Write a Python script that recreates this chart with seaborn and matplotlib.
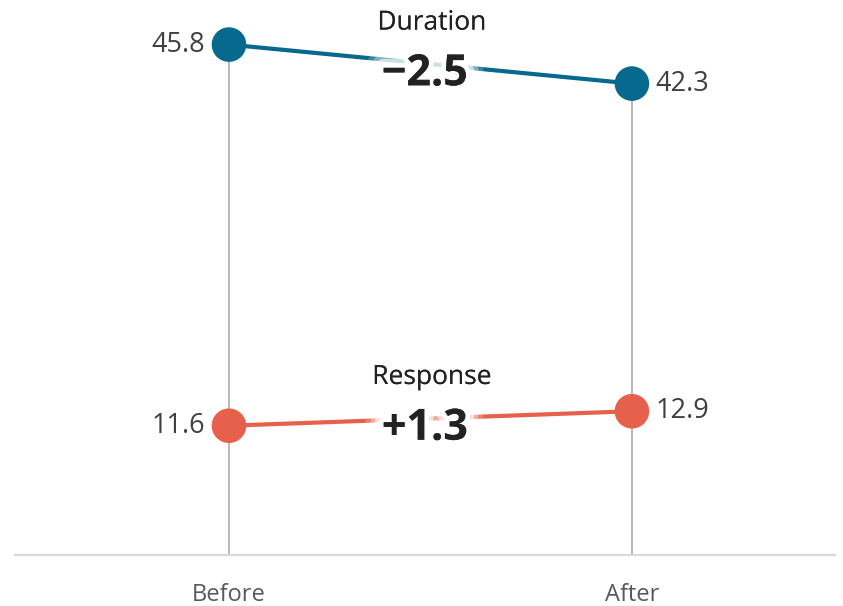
import matplotlib
matplotlib.use("Agg")
import matplotlib.pyplot as plt
import matplotlib.patheffects as pe
import seaborn as sns
import pandas as pd

periods = ["Before", "After"]
metrics = ["Duration", "Response"]
duration_vals = [45.8, 42.3]
response_vals = [11.6, 12.9]
change_labels = ["\u22122.5", "+1.3"]
colors = {"Duration": "#06698d", "Response": "#e6604b"}

df = pd.DataFrame({
    "metric": ["Duration"] * 2 + ["Response"] * 2,
    "x": [0, 1, 0, 1],
    "value": duration_vals + response_vals,
})

sns.set_theme(style="white")
plt.rcParams["font.family"] = ["Open Sans", "DejaVu Sans"]

fig = plt.figure(figsize=(8.43, 6.06), dpi=100)
ax = fig.add_axes([15 / 843, 51 / 606, 820 / 843, 555 / 606])

# vertical guide lines
for i in range(2):
    top = max(df.loc[df.x == i, "value"])
    ax.plot([i, i], [0, top], color="#b3b3b3", lw=1.3, zorder=1)

sns.lineplot(data=df, x="x", y="value", hue="metric", palette=colors,
             lw=3, ax=ax, legend=False, zorder=2)
sns.scatterplot(data=df, x="x", y="value", hue="metric", palette=colors,
                s=620, edgecolor="none", ax=ax, legend=False, zorder=3)

glow = [pe.withStroke(linewidth=w, foreground="white", alpha=a)
        for w, a in [(26, 0.2), (19, 0.35), (13, 0.6), (7, 1.0)]] + [pe.Normal()]

for m, vals, lab in zip(metrics, [duration_vals, response_vals], change_labels):
    ax.annotate(f"{vals[0]:.1f}", (0, vals[0]), xytext=(-17, 0), textcoords="offset points",
                ha="right", va="center", fontsize=19.5, color="#404040")
    ax.annotate(f"{vals[1]:.1f}", (1, vals[1]), xytext=(17, 0), textcoords="offset points",
                ha="left", va="center", fontsize=19.5, color="#404040")
    mid = (vals[0] + vals[1]) / 2
    ax.annotate(lab, (0.5, mid), xytext=(-4, -7), textcoords="offset points",
                ha="center", va="center", fontsize=31, fontweight="bold",
                color="#222222", path_effects=glow, zorder=5)
    ax.annotate(m, (0.5, mid), xytext=(1, 29.5), textcoords="offset points",
                ha="center", va="center", fontsize=19, color="#222222",
                path_effects=glow, zorder=5)

ax.set_xlim(-0.531, 1.504)
ax.set_ylim(0, 49.8)
ax.set_xticks([0, 1])
ax.set_xticklabels(periods, fontsize=17, color="#595959")
ax.tick_params(axis="x", length=0, pad=20)
ax.set_yticks([])
ax.set_xlabel("")
ax.set_ylabel("")
for s in ["top", "right", "left"]:
    ax.spines[s].set_visible(False)
ax.spines["bottom"].set_color("#d9d9d9")
ax.spines["bottom"].set_linewidth(1.6)

fig.savefig("out.png", dpi=100)
